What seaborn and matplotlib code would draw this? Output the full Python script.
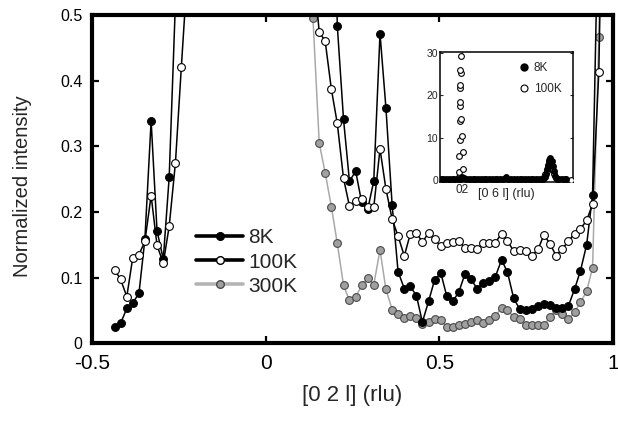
import numpy as np
import pandas as pd
import matplotlib
matplotlib.use("Agg")
import matplotlib.pyplot as plt
from matplotlib.lines import Line2D
import seaborn as sns

sns.set_style("ticks")
plt.rcParams["font.family"] = ["Liberation Sans", "DejaVu Sans"]

nan = np.nan

# ---- [0 2 l] scan, low-l side of the (0 2 0) reflection ----
l_low = [-0.435, -0.418, -0.400, -0.383, -0.365, -0.348, -0.330,
         -0.313, -0.295, -0.278, -0.260, -0.243, -0.225]
i8_low = [0.025, 0.030, 0.053, 0.061, 0.076, 0.158, 0.339,
          0.171, 0.128, 0.253, 0.52, 1.2, nan]
i100_low = [0.112, 0.097, 0.071, 0.130, 0.135, 0.155, 0.225,
            0.149, 0.122, 0.178, 0.275, 0.421, 0.57]

# ---- high-l side ----
l_high = [0.119, 0.136, 0.154, 0.171, 0.189, 0.206, 0.224, 0.241, 0.259, 0.276,
          0.294, 0.311, 0.329, 0.346, 0.364, 0.381, 0.399, 0.416, 0.434, 0.451,
          0.469, 0.486, 0.504, 0.521, 0.539, 0.556, 0.574, 0.591, 0.609, 0.626,
          0.644, 0.661, 0.679, 0.696, 0.714, 0.731, 0.749, 0.766, 0.784, 0.801,
          0.819, 0.836, 0.854, 0.871, 0.889, 0.906, 0.924, 0.941, 0.959, 0.976]
i8_high = [nan, nan, nan, nan, 0.9, 0.484, 0.341, 0.247, 0.262, 0.215,
           0.205, 0.247, 0.472, 0.359, 0.210, 0.109, 0.083, 0.087, 0.072, 0.032,
           0.064, 0.096, 0.107, 0.072, 0.064, 0.078, 0.106, 0.097, 0.083, 0.092,
           0.095, 0.101, 0.127, 0.108, 0.068, 0.052, 0.051, 0.052, 0.056, 0.060,
           0.058, 0.054, 0.054, 0.056, 0.082, 0.110, 0.150, 0.226, 0.70, nan]
i100_high = [nan, 0.58, 0.474, 0.461, 0.387, 0.335, 0.251, 0.209, 0.217, 0.219,
             0.207, 0.207, 0.296, 0.235, 0.189, 0.163, 0.133, 0.166, 0.168, 0.154,
             0.168, 0.158, 0.148, 0.153, 0.154, 0.155, 0.145, 0.145, 0.144, 0.152,
             0.152, 0.153, 0.167, 0.156, 0.140, 0.142, 0.141, 0.133, 0.143, 0.165,
             0.151, 0.133, 0.144, 0.155, 0.167, 0.174, 0.187, 0.212, 0.414, 0.9]
i300_high = [0.9, 0.495, 0.305, 0.260, 0.208, 0.152, 0.088, 0.065, 0.070, 0.088,
             0.099, 0.089, 0.142, 0.082, 0.051, 0.044, 0.038, 0.041, 0.039, 0.029,
             0.032, 0.036, 0.035, 0.025, 0.025, 0.027, 0.029, 0.032, 0.035, 0.031,
             0.035, 0.041, 0.054, 0.050, 0.040, 0.036, 0.027, 0.027, 0.027, 0.027,
             0.040, 0.050, 0.044, 0.036, 0.047, 0.062, 0.079, 0.115, 0.466, 0.9]

# ---- inset: [0 6 l] scan ----
l6_8k = [-0.195, -0.17, -0.145, -0.12, -0.095, -0.07, -0.045, -0.02, 0.0, 0.02,
         0.045, 0.07, 0.095, 0.12, 0.145, 0.17, 0.195, 0.22, 0.245, 0.27,
         0.295, 0.32, 0.345, 0.37, 0.395, 0.42, 0.445, 0.47, 0.495, 0.52,
         0.545, 0.57, 0.595, 0.62, 0.645, 0.67, 0.695, 0.72,
         0.735, 0.75, 0.76, 0.77, 0.78, 0.79, 0.80, 0.81, 0.82, 0.83, 0.845, 0.86,
         0.88, 0.905, 0.93, 0.945]
i6_8k = [0.3, 0.3, 0.3, 0.3, 0.3, 0.3, 0.3, 0.4, 0.9, 0.6,
         0.3, 0.3, 0.3, 0.3, 0.3, 0.3, 0.3, 0.3, 0.3, 0.3,
         0.3, 0.3, 0.3, 0.4, 0.7, 0.3, 0.3, 0.3, 0.3, 0.3,
         0.3, 0.3, 0.3, 0.3, 0.3, 0.3, 0.3, 0.3,
         0.4, 0.9, 1.6, 2.6, 3.7, 4.7, 5.2, 4.6, 3.5, 2.2, 1.0, 0.4,
         0.3, 0.3, 0.3, 0.3]
l6_100k = [-0.195, -0.145, -0.095, -0.045,
           -0.028, -0.025, -0.024, -0.019, -0.022, -0.018, -0.021, -0.014,
           -0.010, -0.016, -0.017, -0.016, -0.006, 0.002, 0.004, 0.011,
           0.045, 0.145, 0.245, 0.345, 0.445, 0.545, 0.645,
           0.74, 0.755, 0.765, 0.775, 0.785, 0.795, 0.805, 0.815, 0.825, 0.835, 0.85,
           0.90, 0.982]
i6_100k = [0.2, 0.2, 0.2, 0.2,
           0.8, 1.9, 5.8, 9.6, 13.9, 17.5, 21.6, 25.2,
           29.1, 26.0, 22.3, 18.5, 14.4, 10.4, 6.6, 2.7,
           0.2, 0.2, 0.2, 0.2, 0.2, 0.2, 0.2,
           0.7, 1.4, 2.3, 3.3, 4.3, 4.9, 4.5, 3.5, 2.4, 1.4, 0.6,
           0.2, 0.05]

fig = plt.figure(figsize=(6.18, 4.22), dpi=100)
ax = fig.add_axes([0.149, 0.187, 0.843, 0.777])

gray_line = "#a9a9a9"
gray_fill = "#a0a0a0"
ms = 5.6

style_8k = dict(color="black", linewidth=1.1, marker="o", markersize=ms,
                markerfacecolor="black", markeredgecolor="black", markeredgewidth=0.8)
style_100k = dict(color="black", linewidth=1.1, marker="o", markersize=ms,
                  markerfacecolor="white", markeredgecolor="black", markeredgewidth=0.8)
style_300k = dict(color=gray_line, linewidth=1.1, marker="o", markersize=ms,
                  markerfacecolor=gray_fill, markeredgecolor="#4a4a4a", markeredgewidth=0.8)

common = dict(ax=ax, estimator=None, sort=False, legend=False, clip_on=True)

sns.lineplot(x=l_high, y=i300_high, **common, **style_300k)
sns.lineplot(x=l_low, y=i8_low, **common, **style_8k)
sns.lineplot(x=l_high, y=i8_high, **common, **style_8k)
sns.lineplot(x=l_low, y=i100_low, **common, **style_100k)
sns.lineplot(x=l_high, y=i100_high, **common, **style_100k)

ax.set_xlim(-0.5, 1.0)
ax.set_ylim(0, 0.5)
ax.set_xticks([-0.5, 0, 0.5, 1.0])
ax.set_xticklabels(["-0.5", "0", "0.5", "1"], fontsize=15)
ax.set_yticks([0, 0.1, 0.2, 0.3, 0.4, 0.5])
ax.set_yticklabels(["0", "0.1", "0.2", "0.3", "0.4", "0.5"], fontsize=11.5)
ax.tick_params(axis="both", direction="in", length=5, width=1.6,
               top=True, right=True, colors="black")
ax.tick_params(axis="x", pad=8)
ax.tick_params(axis="y", pad=7)
for s in ax.spines.values():
    s.set_linewidth(3.0)
    s.set_color("black")

ax.set_xlabel("[0 2 l] (rlu)", fontsize=16)
ax.xaxis.set_label_coords(0.5, -0.128)
ax.set_ylabel("Normalized intensity", fontsize=14.5)
ax.yaxis.set_label_coords(-0.115, 0.48)

handles = [
    Line2D([], [], color="black", linewidth=2.6, marker="o", markersize=5.5,
           markerfacecolor="black", markeredgecolor="black"),
    Line2D([], [], color="black", linewidth=2.6, marker="o", markersize=5.5,
           markerfacecolor="white", markeredgecolor="black"),
    Line2D([], [], color="#b4b4b4", linewidth=2.6, marker="o", markersize=5.5,
           markerfacecolor=gray_fill, markeredgecolor="#4a4a4a"),
]
ax.legend(handles, ["8K", "100K", "300K"], loc="upper left",
          bbox_to_anchor=(0.1996, 0.35), frameon=False, fontsize=15,
          handlelength=2.25, handletextpad=0.25, labelspacing=0.25, borderpad=0,
          borderaxespad=0)

# inset
axi = fig.add_axes([0.712, 0.5694, 0.2144, 0.308])
axi.set_facecolor("white")
sns.scatterplot(x=l6_100k, y=i6_100k, ax=axi, marker="o", s=17,
                facecolor="white", edgecolor="black", linewidth=0.8, zorder=3)
sns.scatterplot(x=l6_8k, y=i6_8k, ax=axi, marker="o", s=17,
                facecolor="black", edgecolor="black", linewidth=0.8, zorder=4)
axi.set_xlim(-0.2, 1.0)
axi.set_ylim(-0.3, 30.2)
axi.set_xticks([0.0])
axi.set_xticklabels(["02"], fontsize=8.5)
axi.set_yticks([0, 10, 20, 30])
axi.set_yticklabels(["0", "10", "20", "30"], fontsize=7.5)
axi.tick_params(axis="both", direction="in", length=2, width=0.8,
                top=True, right=True, pad=1.5)
for s in axi.spines.values():
    s.set_linewidth(1.1)
    s.set_color("black")
axi.set_xlabel("[0 6 l] (rlu)", fontsize=9)
axi.xaxis.set_label_coords(0.5, -0.045)

ins_handles = [
    Line2D([], [], linestyle="none", marker="o", markersize=5,
           markerfacecolor="black", markeredgecolor="black"),
    Line2D([], [], linestyle="none", marker="o", markersize=5,
           markerfacecolor="white", markeredgecolor="black", markeredgewidth=0.8),
]
axi.legend(ins_handles, ["8K", "100K"], loc="upper left",
           bbox_to_anchor=(0.6, 0.921), frameon=False, fontsize=8.5,
           handlelength=0.8, handletextpad=0.4, labelspacing=0.75, borderpad=0,
           borderaxespad=0)

fig.savefig("out.png", dpi=100)
